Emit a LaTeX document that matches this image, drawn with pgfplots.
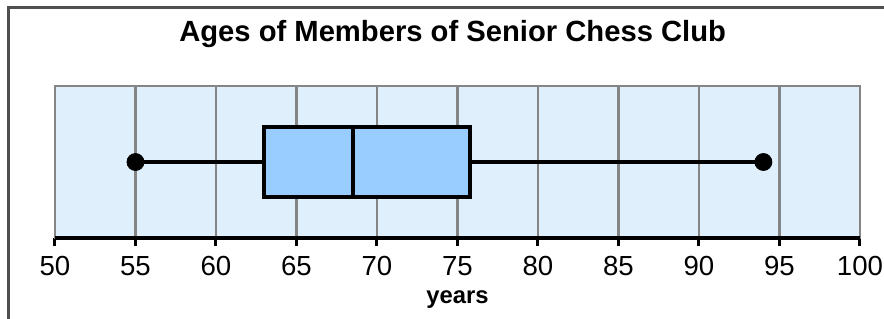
\documentclass[border=0pt]{standalone}
\usepackage{fontspec}
\setmainfont{Liberation Sans}
\usepackage{pgfplots}
\pgfplotsset{compat=1.18}
\usepgfplotslibrary{statistics}
\definecolor{bgblue}{HTML}{DFF0FC}
\definecolor{boxblue}{HTML}{99CCFF}
\definecolor{gridgray}{HTML}{858585}
\definecolor{framegray}{HTML}{505050}
\begin{document}
\begin{tikzpicture}
\path[use as bounding box] (-27.5pt,-40pt) rectangle (414.5pt,119pt);
\begin{axis}[
  at={(0,0)}, anchor=south west,
  scale only axis, width=402.5pt, height=76pt,
  xmin=50, xmax=100, ymin=0, ymax=1,
  xtick={50,55,...,100}, ytick=\empty,
  xtick pos=bottom, tick align=outside,
  major tick length=4pt,
  tick style={black, line width=1.5pt},
  xmajorgrids, grid style={gridgray, line width=1.4pt},
  axis line style={gridgray, line width=1.4pt},
  axis background/.style={fill=bgblue},
  /pgf/number format/assume math mode=true,
  xticklabel style={font=\fontsize{13.8}{16}\selectfont, anchor=base, yshift=-14.5pt, inner sep=0pt},
  title={\bfseries Ages of Members of Senior Chess Club},
  title style={font=\fontsize{14.6}{17}\selectfont, at={(0.494,1)}, anchor=base, yshift=16.5pt, inner sep=0pt},
  xlabel={\bfseries years},
  xlabel style={font=\fontsize{11.9}{14}\selectfont, at={(0.5,0)}, anchor=base, yshift=-32.5pt, inner sep=0pt},
  after end axis/.code={
    \draw[black, line width=2pt] (rel axis cs:0,0) -- (rel axis cs:1,0);},
]
\addplot[boxplot prepared={lower whisker=55, lower quartile=63, median=68.5,
    upper quartile=75.75, upper whisker=94, draw position=0.5,
    box extend=0.46, whisker extend=0},
  boxplot/draw direction=x, draw=black, line width=2pt, fill=boxblue]
  coordinates {};
\addplot[only marks, mark=*, mark size=4.25pt, black] coordinates {(55,0.5) (94,0.5)};
\end{axis}
\draw[framegray, line width=1.5pt] (-23pt,-50pt) -- (-23pt,115.5pt) -- (430pt,115.5pt);
\end{tikzpicture}
\end{document}
